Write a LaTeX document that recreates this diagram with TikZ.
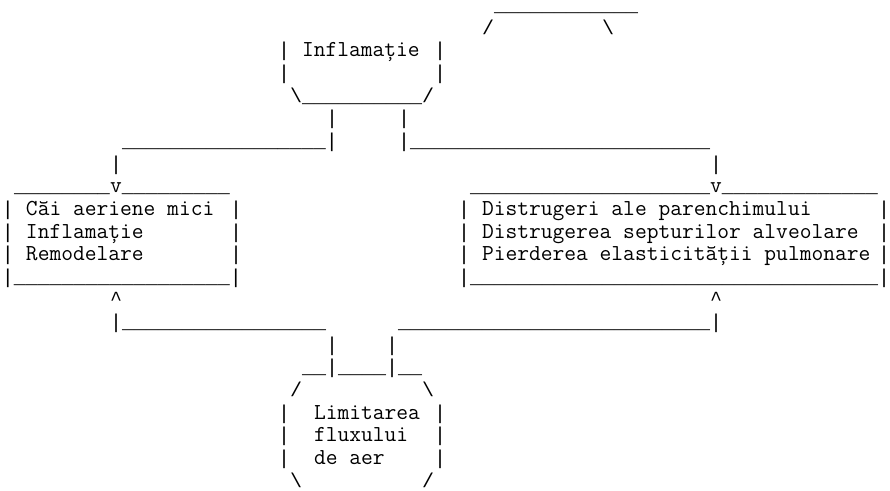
\documentclass[tikz,border=0pt]{standalone}
\usepackage{fontspec}
\newfontfamily\symfam{Liberation Mono}
\ExplSyntaxOn
\NewDocumentCommand\usc{m}{\prg_replicate:nn{#1}{\textunderscore}}
\ExplSyntaxOff
\newcommand\bsl{\textbackslash}
\newcommand\crt{\textasciicircum}
\newcommand\wrdfont{\ttfamily\fontsize{17.14pt}{17pt}\selectfont}
\newcommand\symfont{\symfam\fontsize{15pt}{17pt}\selectfont}
\newcommand\vv{{\wrdfont v}}
\tikzset{
  asc/.style={anchor=base west, inner sep=0pt, outer sep=0pt, font=\symfont, text=black},
  wrd/.style={anchor=base west, inner sep=0pt, outer sep=0pt, font=\wrdfont, text=black}}
% col -> x, row -> y  (cell 12px = 9pt, row pitch 22.65px)
\newcommand\ascline[4]{\node[asc] (#1) at ({1.5pt+9pt*#2},{-(8.625pt+16.9875pt*#3)}) {#4};}
\newcommand\wrdline[4]{\node[wrd] (#1) at ({1.5pt+9pt*#2},{-(8.625pt+16.9875pt*#3)}) {#4};}
\begin{document}
\begin{tikzpicture}
\fill[white] (0,0) rectangle (667.5pt,-367.5pt);
\useasboundingbox (0,0) rectangle (667.5pt,-367.5pt);
% row 0-1: top fragment
\ascline{ra}{41}{0}{\usc{12}}
\ascline{rba}{40}{1}{/}
\ascline{rbb}{50}{1}{\bsl}
% Inflamatie box
\ascline{rca}{23}{2}{|}
\wrdline{rcb}{25}{2}{Inflamație}
\ascline{rcc}{36}{2}{|}
\ascline{rda}{23}{3}{|}
\ascline{rdb}{36}{3}{|}
\ascline{re}{24}{4}{\bsl\usc{10}/}
\ascline{rfa}{27}{5}{|}
\ascline{rfb}{33}{5}{|}
\ascline{rga}{10}{6}{\usc{17}|}
\ascline{rgb}{33}{6}{|\usc{25}}
\ascline{rha}{9}{7}{|}
\ascline{rhb}{59}{7}{|}
\ascline{ria}{1}{8}{\usc{8}\vv\usc{9}}
\ascline{rib}{39}{8}{\usc{20}\vv\usc{13}}
% left box
\ascline{rja}{0}{9}{|}
\wrdline{rjb}{2}{9}{Căi aeriene mici}
\ascline{rjc}{19}{9}{|}
\ascline{rka}{0}{10}{|}
\wrdline{rkb}{2}{10}{Inflamație}
\ascline{rkc}{19}{10}{|}
\ascline{rla}{0}{11}{|}
\wrdline{rlb}{2}{11}{Remodelare}
\ascline{rlc}{19}{11}{|}
\ascline{rma}{0}{12}{|\usc{18}|}
% right box
\ascline{rjd}{38}{9}{|}
\wrdline{rje}{40}{9}{Distrugeri ale parenchimului}
\ascline{rjf}{73}{9}{|}
\ascline{rkd}{38}{10}{|}
\wrdline{rke}{40}{10}{Distrugerea septurilor alveolare}
\ascline{rkf}{73}{10}{|}
\ascline{rld}{38}{11}{|}
\wrdline{rle}{40}{11}{Pierderea elasticității pulmonare}
\ascline{rlf}{73}{11}{|}
\ascline{rmb}{38}{12}{|\usc{34}|}
% arrows up
\ascline{rna}{9}{13}{\crt}
\ascline{rnb}{59}{13}{\crt}
\ascline{roa}{9}{14}{|\usc{17}}
\ascline{rob}{33}{14}{\usc{26}|}
\ascline{rpa}{27}{15}{|}
\ascline{rpb}{32}{15}{|}
% Limitarea box
\ascline{rq}{25}{16}{\usc{2}|\usc{4}|\usc{2}}
\ascline{rra}{24}{17}{/}
\ascline{rrb}{35}{17}{\bsl}
\ascline{rsa}{23}{18}{|}
\wrdline{rsb}{26}{18}{Limitarea}
\ascline{rsc}{36}{18}{|}
\ascline{rta}{23}{19}{|}
\wrdline{rtb}{26}{19}{fluxului}
\ascline{rtc}{36}{19}{|}
\ascline{rua}{23}{20}{|}
\wrdline{rub}{26}{20}{de aer}
\ascline{ruc}{36}{20}{|}
\ascline{rva}{24}{21}{\bsl}
\ascline{rvb}{35}{21}{/}
\end{tikzpicture}
\end{document}
